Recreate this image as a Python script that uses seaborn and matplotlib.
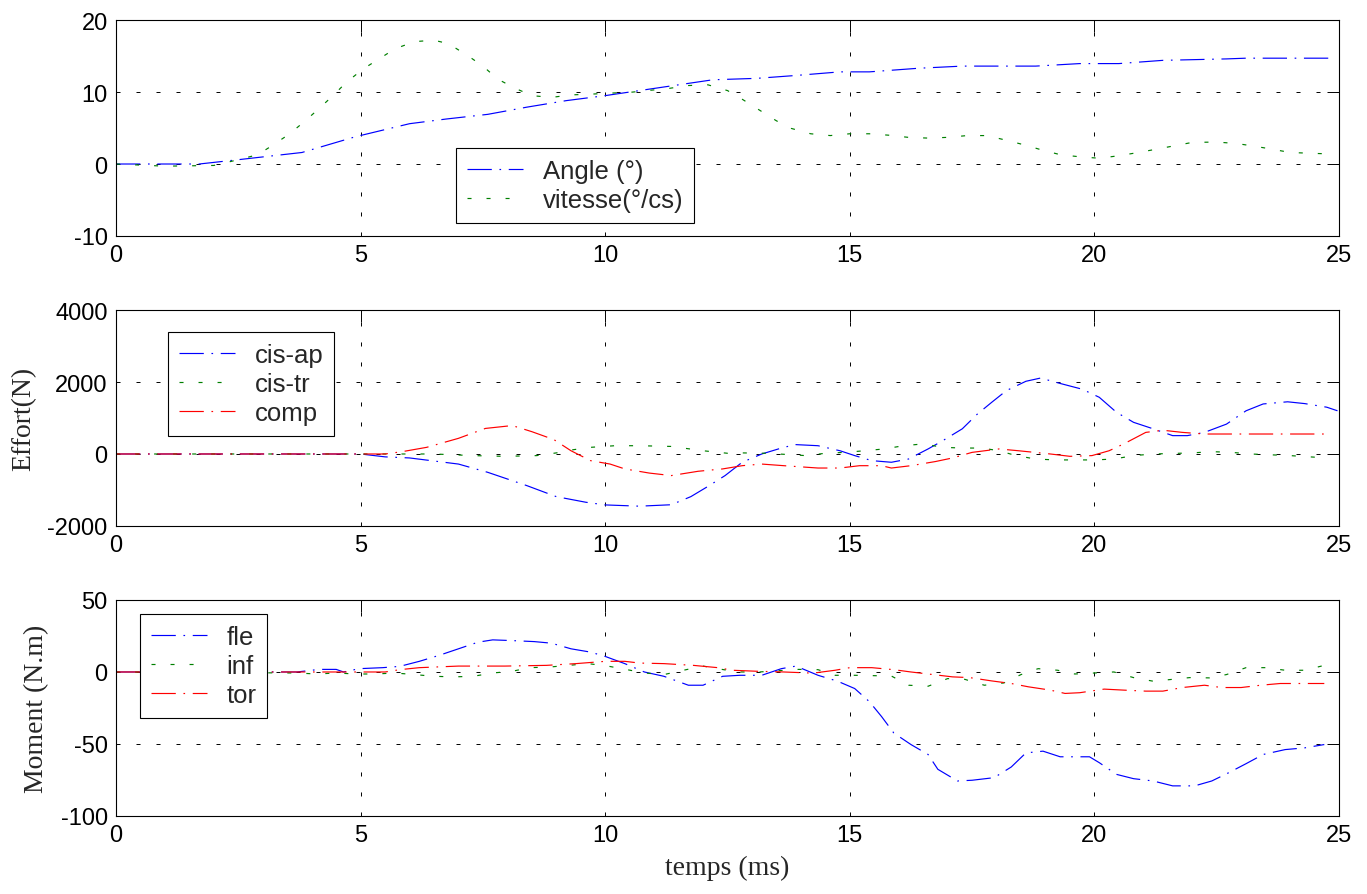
import matplotlib
matplotlib.use("Agg")
import matplotlib.pyplot as plt
import pandas as pd
import seaborn as sns

# ---- data (time in ms) ----
angle_t = [0, 1.7, 2.5, 3.8, 4.9, 6.0, 6.75, 7.6, 8.4, 9.2, 10.0, 10.9, 11.7, 12.2, 13.1,
           13.9, 14.8, 15.4, 16.4, 17.3, 18.8, 19.7, 20.5, 21.4, 22.7, 23.1, 24.8]
angle_v = [0, 0, 0.6, 1.6, 3.8, 5.6, 6.25, 6.9, 7.9, 8.8, 9.5, 10.4, 11.2, 11.7, 11.9,
           12.3, 12.8, 12.8, 13.3, 13.6, 13.6, 13.95, 13.95, 14.4, 14.6, 14.7, 14.7]

vit_t = [0, 1.0, 2.0, 2.5, 2.9, 3.2, 3.55, 3.85, 4.15, 4.45, 4.7, 5.05, 5.4, 5.7, 6.1, 6.5,
         6.8, 7.2, 7.5, 7.8, 8.15, 8.5, 8.9, 9.3, 9.7, 10.1, 10.5, 11.3, 11.7, 12.1, 12.5,
         12.8, 13.15, 13.5, 13.8, 14.2, 14.6, 15.0, 15.4, 15.8, 16.2, 16.6, 17.0, 17.4, 17.8,
         18.2, 18.6, 18.95, 19.3, 19.7, 20.1, 20.5, 20.9, 21.3, 21.65, 22.0, 22.5, 22.9, 23.2,
         23.6, 24.0, 24.4, 24.8]
vit_v = [0, -0.3, -0.2, 0.6, 1.3, 2.6, 4.2, 5.9, 7.7, 9.6, 11.3, 13.2, 14.7, 16.0, 17.0, 17.2,
         16.7, 15.0, 13.6, 11.8, 10.55, 9.5, 9.25, 9.6, 9.7, 9.85, 9.95, 10.5, 10.9, 11.0, 10.2,
         9.0, 7.5, 6.0, 4.95, 4.2, 3.95, 4.2, 4.2, 4.0, 3.7, 3.6, 3.7, 3.95, 3.95,
         3.3, 2.6, 1.9, 1.3, 1.0, 0.8, 1.15, 1.6, 2.1, 2.55, 3.0, 3.05, 2.85, 2.55,
         2.1, 1.6, 1.5, 1.4]

cisap_t = [0, 5.0, 5.5, 6.0, 7.0, 7.6, 8.4, 9.0, 9.6, 10.0, 10.7, 11.35, 11.75, 12.1, 12.45,
           12.8, 13.2, 13.65, 13.9, 14.35, 14.8, 15.1, 15.45, 15.85, 16.2, 16.6, 16.9, 17.3,
           17.6, 17.9, 18.2, 18.6, 18.9, 19.3, 19.75, 20.1, 20.45, 20.8, 21.2, 21.6, 21.9,
           22.25, 22.7, 23.1, 23.45, 23.95, 24.3, 24.75, 24.97]
cisap_v = [0, 0, -80, -110, -280, -510, -880, -1185, -1340, -1415, -1450, -1410, -1185, -900, -600,
           -230, 0, 185, 260, 230, 90, -45, -185, -230, -140, 140, 370, 700,
           1100, 1435, 1760, 2020, 2110, 1960, 1800, 1575, 1160, 880, 700, 510, 510,
           600, 830, 1200, 1390, 1450, 1400, 1300, 1200]

cistr_t = [0, 6.5, 7.3, 7.95, 8.6, 9.0, 9.3, 9.7, 10.2, 10.7, 11.35, 12.0, 12.5, 12.8, 13.3,
           14.1, 14.5, 14.9, 15.3, 15.7, 16.1, 16.5, 16.9, 17.3, 17.7, 18.05, 18.4, 18.8,
           19.2, 20.0, 20.4, 20.8, 21.2, 22.0, 22.4, 22.8, 23.2, 24.0, 24.75]
cistr_v = [0, 0, -45, -65, -45, 30, 110, 185, 230, 230, 210, 90, 20, 30, 20,
           -45, 20, 45, 90, 140, 230, 280, 185, 165, 165, 90, -45, -140,
           -165, -165, -140, -45, 0, 30, 65, 45, 0, -45, -110]

comp_t = [0, 5.5, 5.85, 6.35, 7.0, 7.55, 8.1, 8.5, 8.95, 9.3, 9.7, 10.1, 10.4, 10.9, 11.35,
          11.9, 12.4, 12.8, 13.2, 13.65, 14.35, 14.8, 15.2, 15.65, 15.85, 16.25, 16.75, 17.1,
          17.5, 18.05, 18.45, 19.1, 19.5, 19.95, 20.3, 20.6, 21.05, 21.4, 21.8, 22.25, 24.8]
comp_v = [0, 0, 65, 185, 435, 710, 790, 620, 400, 90, -185, -280, -415, -530, -600,
          -480, -415, -325, -280, -325, -390, -390, -325, -325, -390, -325, -210, -110,
          45, 140, 90, 0, -65, -45, 90, 280, 600, 660, 600, 555, 555]

fle_t = [0, 3.7, 4.15, 4.5, 4.65, 4.97, 5.45, 5.8, 6.2, 6.6, 7.0, 7.4, 7.7, 8.1, 8.55, 8.9,
         9.3, 9.7, 10.0, 10.4, 10.8, 11.2, 11.7, 12.0, 12.4, 12.75, 13.2, 13.6, 13.9, 14.35,
         14.75, 15.1, 15.4, 15.65, 15.9, 16.25, 16.6, 16.8, 17.2, 17.5, 17.95, 18.3, 18.6,
         18.95, 19.3, 19.9, 20.1, 20.45, 20.8, 21.2, 21.6, 22.05, 22.4, 22.75, 23.1, 23.45,
         23.9, 24.3, 24.7]
fle_v = [0, 0, 1.8, 1.8, 0, 2.3, 3.0, 3.9, 7.4, 11.5, 16.1, 20.7, 22.3, 21.8, 21.1, 20.0,
         16.1, 13.8, 10.8, 5.8, 0, -3.0, -9.2, -9.2, -3.0, -2.3, -2.3, 2.3, 4.1, -2.3,
         -6.4, -11.5, -20.6, -31, -42.4, -50.4, -57.3, -67.6, -75.7, -75.2, -73.4, -66, -56.2,
         -55, -58.9, -58.9, -63, -71.1, -74.1, -75.7, -79.1, -79.1, -75.7, -69.9, -63.7, -57.3,
         -53.9, -52.7, -50.4]

inf_t = [0, 3.7, 4.1, 4.5, 4.9, 5.3, 5.7, 6.1, 6.5, 6.9, 7.3, 7.7, 8.1, 8.45, 8.85, 9.25,
         9.65, 10.05, 10.45, 10.8, 11.2, 11.6, 12.0, 12.3, 12.7, 13.15, 13.95, 14.35, 14.7,
         15.1, 15.85, 16.2, 16.6, 17.0, 17.35, 17.75, 18.15, 18.5, 18.85, 19.25, 19.6, 20.0,
         20.4, 20.8, 21.2, 21.6, 21.95, 22.35, 22.7, 23.1, 23.5, 23.9, 24.3, 24.7]
inf_v = [0, -0.7, -1.4, -0.7, -1.4, -1.4, -0.7, -1.8, -3.0, -3.4, -3.0, -0.7, 0.5, 3.0, 3.4, 4.6,
         5.8, 4.1, 1.6, -0.7, -1.8, 1.2, 4.1, 2.3, 0, 0, 1.8, 1.6, -2.3,
         -2.3, -2.8, -9.2, -9.9, -4.6, -5.1, -9.2, -7.6, -1.8, 2.3, 1.2, -1.4, -0.7,
         0, -3.9, -6.4, -5.1, -3.9, -4.1, -1.8, 3.0, 3.0, 1.2, 1.2, 4.6]

tor_t = [0, 5.5, 5.8, 6.2, 7.0, 7.95, 8.8, 9.4, 10.0, 10.4, 10.7, 11.2, 11.8, 12.3, 12.6, 13.1,
         13.65, 14.25, 14.7, 15.0, 15.45, 15.9, 16.25, 16.7, 17.1, 17.45, 17.9, 18.3, 18.65,
         19.1, 19.4, 19.7, 20.2, 20.6, 21.05, 21.4, 21.8, 22.25, 22.6, 23.0, 23.4, 23.8, 24.7]
tor_v = [0, 0, 1.6, 3.0, 4.1, 4.1, 4.6, 5.8, 7.4, 7.4, 6.2, 5.8, 4.6, 3.0, 1.2, 0.5,
         0, -0.8, 1.2, 3.0, 3.0, 1.6, 0, -1.8, -3.4, -3.9, -6.2, -8.0, -10.3,
         -12.6, -14.9, -14.4, -11.9, -12.6, -13.3, -13.3, -10.8, -9.2, -10.8, -10.8, -9.2, -8.0, -8.0]

# ---- style (MATLAB-like figure) ----
sns.set_theme(style="white")
plt.rcParams["font.family"] = ["Liberation Sans", "DejaVu Sans"]
plt.rcParams["lines.scale_dashes"] = False
plt.rcParams["axes.unicode_minus"] = False
plt.rcParams["axes.edgecolor"] = "black"
plt.rcParams["axes.linewidth"] = 0.8

BLUE, GREEN, RED = "#0000ff", "#008000", "#ff0000"
DASHDOT = (0, (17.5, 5.5, 1.2, 5.5))
DOTTED = (0, (2.9, 10.8))
GRID = (0, (2.9, 11.5))
SERIF = ["Liberation Serif", "DejaVu Serif"]

fig = plt.figure(figsize=(13.67, 8.95), dpi=100)
left, width, height = 0.0849, 0.8946, 0.2413
axes = [fig.add_axes([left, 0.7352, width, height]),
        fig.add_axes([left, 0.4112, width, height]),
        fig.add_axes([left, 0.0872, width, height])]

panels = [
    [("Angle (°)", angle_t, angle_v, BLUE, DASHDOT),
     ("vitesse(°/cs)", vit_t, vit_v, GREEN, DOTTED)],
    [("cis-ap", cisap_t, cisap_v, BLUE, DASHDOT),
     ("cis-tr", cistr_t, cistr_v, GREEN, DOTTED),
     ("comp", comp_t, comp_v, RED, DASHDOT)],
    [("fle", fle_t, fle_v, BLUE, DASHDOT),
     ("inf", inf_t, inf_v, GREEN, DOTTED),
     ("tor", tor_t, tor_v, RED, DASHDOT)],
]
ylims = [(-10, 20), (-2000, 4000), (-100, 50)]
yticks = [[-10, 0, 10, 20], [-2000, 0, 2000, 4000], [-100, -50, 0, 50]]
ylabels = ["", "Effort(N)", "Moment (N.m)"]
legend_anchor = [(0.278, 0.407), (0.0425, 0.898), (0.0196, 0.936)]

for ax, series, ylim, yt, ylab, anchor in zip(axes, panels, ylims, yticks, ylabels, legend_anchor):
    for name, t, v, color, ls in series:
        df = pd.DataFrame({"t": t, "v": v})
        sns.lineplot(data=df, x="t", y="v", ax=ax, color=color, linestyle=ls,
                     linewidth=0.85, label=name, estimator=None)
    ax.set_xlim(0, 25)
    ax.set_ylim(*ylim)
    ax.set_xticks([0, 5, 10, 15, 20, 25])
    ax.set_yticks(yt)
    ax.grid(True, color="black", linestyle=GRID, linewidth=0.7)
    ax.tick_params(direction="in", top=True, right=True, length=8.6, width=0.7,
                   labelsize=17, colors="black", pad=6)
    for sp in ax.spines.values():
        sp.set_visible(True)
        sp.set_color("black")
    ax.set_xlabel("")
    ax.set_ylabel(ylab, fontsize=20, family=SERIF, labelpad=8)
    leg = ax.legend(loc="upper left", bbox_to_anchor=anchor, borderaxespad=0,
                    fontsize=18.5, frameon=True, fancybox=False, framealpha=1,
                    edgecolor="black", borderpad=0.42, labelspacing=0.2,
                    handlelength=2.2, handletextpad=0.75)
    leg.get_frame().set_linewidth(0.8)

axes[2].set_xlabel("temps (ms)", fontsize=20, family=SERIF, labelpad=6)

fig.savefig("out.png", dpi=100)
